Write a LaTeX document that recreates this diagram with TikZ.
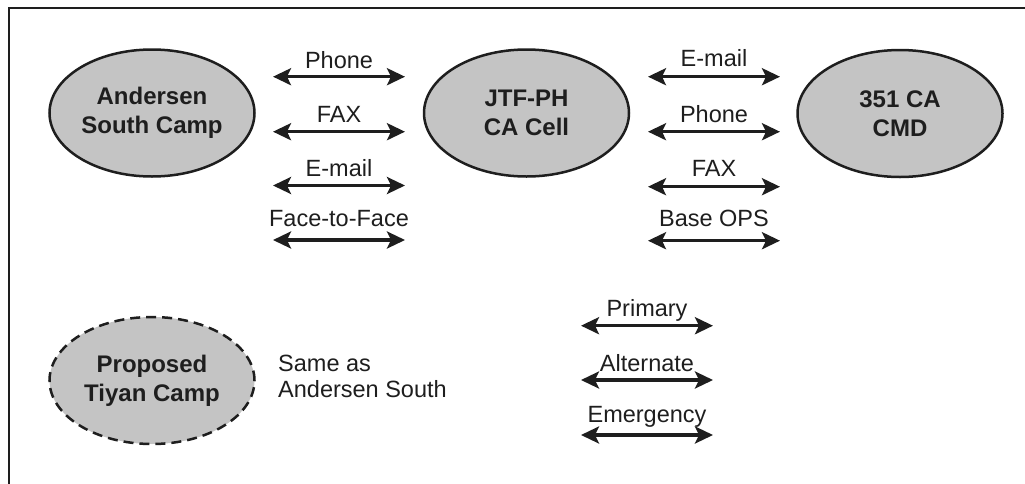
\documentclass[tikz,border=0pt]{standalone}
\usepackage{fontspec}
\setmainfont{Liberation Sans}
\usetikzlibrary{shapes.geometric,arrows.meta}
\definecolor{ink}{RGB}{30,30,30}
\definecolor{fillgray}{RGB}{196,196,196}
\tikzset{
  place/.style={ellipse, draw=ink, line width=2.5pt, fill=fillgray,
    minimum width=205pt, minimum height=127pt, inner sep=0pt, align=center,
    font=\bfseries\fontsize{24}{29}\selectfont, text=ink},
  proposed/.style={place, dash pattern=on 10pt off 6pt},
  lbl/.style={font=\fontsize{23.5}{26}\selectfont, text=ink, anchor=base, inner sep=0pt},
  note/.style={lbl, anchor=base west},
  link/.style={draw=ink, line width=3.2pt,
    {Stealth[length=18pt,width=17pt,inset=4pt]}-{Stealth[length=18pt,width=17pt,inset=4pt]}},
  frame/.style={draw=ink, line width=2.5pt}
}
\begin{document}
\begin{tikzpicture}[x=1pt,y=-1pt]
\useasboundingbox (0,0) rectangle (1025,483);
% frame
\coordinate (f1) at (9,484);
\coordinate (f2) at (9,8);
\coordinate (f3) at (1026,8);
\draw[frame] (f1) -- (f2) -- (f3);

% main nodes
\node[place] (as) at (152,113) {Andersen\\South Camp};
\node[place] (jtf) at (526.5,113) {JTF-PH\\CA Cell};
\node[place] (cmd) at (900,113.5) {351 CA\\CMD};
\node[proposed] (tiyan) at (152,380.5) {Proposed\\Tiyan Camp};

% left group
\coordinate (l1a) at (273,76.7);  \coordinate (l1b) at (405,76.7);
\coordinate (l2a) at (273,131.7); \coordinate (l2b) at (405,131.7);
\coordinate (l3a) at (273,185.5); \coordinate (l3b) at (405,185.5);
\coordinate (l4a) at (273,240);   \coordinate (l4b) at (405,240);
\draw[link] (l1a) -- (l1b);
\draw[link] (l2a) -- (l2b);
\draw[link] (l3a) -- (l3b);
\draw[link] (l4a) -- (l4b);
\node[lbl] (tl1) at (339,68.3) {Phone};
\node[lbl] (tl2) at (339,122.7) {FAX};
\node[lbl] (tl3) at (339,176.7) {E-mail};
\node[lbl] (tl4) at (339,226.7) {Face-to-Face};

% right group
\coordinate (r1a) at (648,76.7);  \coordinate (r1b) at (780,76.7);
\coordinate (r2a) at (648,131.7); \coordinate (r2b) at (780,131.7);
\coordinate (r3a) at (648,186.7); \coordinate (r3b) at (780,186.7);
\coordinate (r4a) at (648,240.7); \coordinate (r4b) at (780,240.7);
\draw[link] (r1a) -- (r1b);
\draw[link] (r2a) -- (r2b);
\draw[link] (r3a) -- (r3b);
\draw[link] (r4a) -- (r4b);
\node[lbl] (tr1) at (714,66.7) {E-mail};
\node[lbl] (tr2) at (714,122.7) {Phone};
\node[lbl] (tr3) at (714,176.7) {FAX};
\node[lbl] (tr4) at (714,226.7) {Base OPS};

% legend
\coordinate (g1a) at (581,325.7); \coordinate (g1b) at (713,325.7);
\coordinate (g2a) at (581,380);   \coordinate (g2b) at (713,380);
\coordinate (g3a) at (581,435);   \coordinate (g3b) at (713,435);
\draw[link] (g1a) -- (g1b);
\draw[link] (g2a) -- (g2b);
\draw[link] (g3a) -- (g3b);
\node[lbl] (tg1) at (647,316.7) {Primary};
\node[lbl] (tg2) at (647,371) {Alternate};
\node[lbl] (tg3) at (647,422.7) {Emergency};

% note
\node[note] (n1) at (278,371.7) {Same as};
\node[note] (n2) at (278,397.7) {Andersen South};
\end{tikzpicture}
\end{document}
